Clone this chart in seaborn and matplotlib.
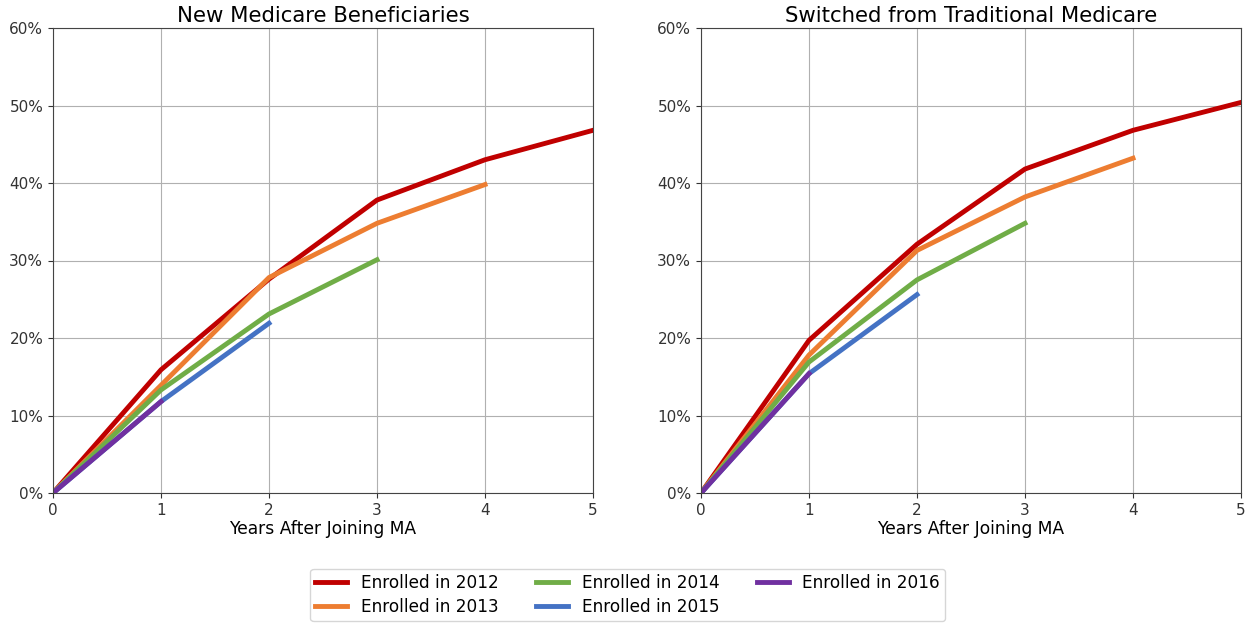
import pandas as pd
import seaborn as sns
import matplotlib.pyplot as plt
from matplotlib.ticker import PercentFormatter

# Office-style colours for each cohort
cohorts = ["Enrolled in 2012", "Enrolled in 2013", "Enrolled in 2014",
           "Enrolled in 2015", "Enrolled in 2016"]
colors = ["#C00000", "#ED7D31", "#70AD47", "#4472C4", "#7030A0"]

# Cumulative share (%) by years after joining MA
new_2012 = [0, 15.9, 27.6, 37.8, 43.0, 46.8]
new_2013 = [0, 13.9, 27.8, 34.8, 39.8]
new_2014 = [0, 13.3, 23.1, 30.1]
new_2015 = [0, 11.8, 21.9]
new_2016 = [0, 11.8]

sw_2012 = [0, 19.7, 32.1, 41.8, 46.8, 50.4]
sw_2013 = [0, 17.8, 31.3, 38.2, 43.2]
sw_2014 = [0, 16.9, 27.5, 34.8]
sw_2015 = [0, 15.4, 25.6]
sw_2016 = [0, 15.4]


def to_long(series_list):
    rows = []
    for name, vals in zip(cohorts, series_list):
        for yr, v in enumerate(vals):
            rows.append({"year": yr, "pct": v, "cohort": name})
    return pd.DataFrame(rows)


df_new = to_long([new_2012, new_2013, new_2014, new_2015, new_2016])
df_sw = to_long([sw_2012, sw_2013, sw_2014, sw_2015, sw_2016])

fig = plt.figure(figsize=(12.49, 6.23), dpi=100)
W, H = 1249, 623
ax1 = fig.add_axes([53 / W, 1 - 493 / H, 540 / W, 465 / H])
ax2 = fig.add_axes([701 / W, 1 - 493 / H, 540 / W, 465 / H])
axes = [ax1, ax2]

titles = ["New Medicare Beneficiaries", "Switched from Traditional Medicare"]
for ax, df, title in zip(axes, [df_new, df_sw], titles):
    sns.lineplot(data=df, x="year", y="pct", hue="cohort", hue_order=cohorts,
                 palette=colors, linewidth=3.5, ax=ax)
    ax.set_xlim(0, 5)
    ax.set_ylim(0, 60)
    ax.set_xticks(range(0, 6))
    ax.set_yticks(range(0, 61, 10))
    ax.yaxis.set_major_formatter(PercentFormatter(decimals=0))
    ax.tick_params(labelsize=11, colors="#333333")
    ax.set_title(title, fontsize=15.3, pad=4)
    ax.set_xlabel("Years After Joining MA", fontsize=12.3, labelpad=2)
    ax.set_ylabel("")
    ax.grid(True, color="#b0b0b0", linewidth=0.8)
    for sp in ax.spines.values():
        sp.set_color("#444444")
    ax.get_legend().remove()

handles, labels = ax1.get_legend_handles_labels()
fig.legend(handles, labels, loc="upper center", bbox_to_anchor=(0.5025, 0.101),
           ncol=3, fontsize=12.2, frameon=True, handlelength=1.9,
           columnspacing=2.2, borderpad=0.3, labelspacing=0.4)

plt.savefig("out.png", dpi=100)
